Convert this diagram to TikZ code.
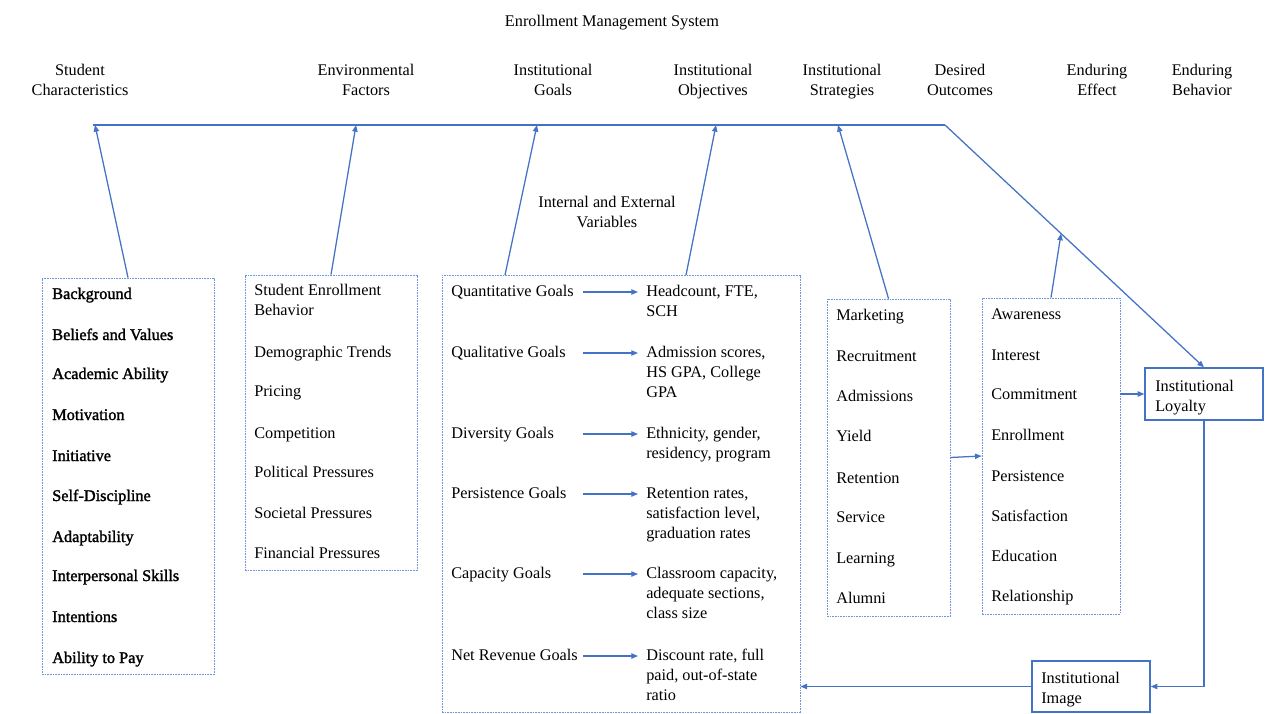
\documentclass[tikz,border=0pt]{standalone}
\usepackage{fontspec}
\setmainfont{Liberation Serif}
\newfontfamily\fakebold[FakeBold=1.6]{Liberation Serif}
\usetikzlibrary{arrows.meta,fit,calc}
\definecolor{eblue}{HTML}{4472C4}
\definecolor{dblue}{HTML}{6F95D8}
\newcommand{\fs}{\fontsize{12.2}{15}\selectfont}
\begin{document}
\begin{tikzpicture}[x=0.75pt,y=-0.75pt,
  lbl/.style={inner sep=0,font=\fs,text height=8pt,text depth=2pt,anchor=west,yshift=-1.5pt},
  blbl/.style={lbl,font=\fs\fakebold},
  mlbl/.style={inner sep=0,font=\fs,align=left,anchor=north west,yshift=-1.5pt},
  head/.style={inner sep=0,font=\fs,align=center,anchor=north,yshift=-1.5pt},
  dbox/.style={draw=dblue,dash pattern=on 1.2pt off 0.8pt,line width=0.6pt,inner sep=0},
  sbox/.style={draw=eblue,line width=1pt,inner sep=0},
  ln/.style={draw=eblue,line width=0.95pt},
  arr/.style={ln,-{Triangle[length=5pt,width=4pt]}}]
\useasboundingbox (0,0) rectangle (1269,713);

% title and headers
\node[lbl,anchor=center,yshift=-0.8pt] (title) at (612,19) {Enrollment Management System};
\node[head] (h1) at (80,62) {Student\\Characteristics};
\node[head] (h2) at (366,62) {Environmental\\Factors};
\node[head] (h3) at (553,62) {Institutional\\Goals};
\node[head] (h4) at (713,62) {Institutional\\Objectives};
\node[head] (h5) at (842,62) {Institutional\\Strategies};
\node[head] (h6) at (960,62) {Desired\\Outcomes};
\node[head] (h7) at (1097,62) {Enduring\\Effect};
\node[head] (h8) at (1202,62) {Enduring\\Behavior};
\node[head] (iev) at (607,194) {Internal and External\\Variables};

% boxes
\node[dbox,fit={(42,278) (214,674)}] (sc) {};
\node[dbox,fit={(245,275) (417,570)}] (ef) {};
\node[dbox,fit={(442,275) (800,712)}] (ig) {};
\node[dbox,fit={(827,299) (950,616)}] (is) {};
\node[dbox,fit={(982,298) (1120,614)}] (do) {};
\node[sbox,fit={(1145,368) (1263,420)}] (loy) {};
\node[sbox,fit={(1032,661) (1150,712)}] (img) {};
\node[mlbl] (loyt) at (1155,378) {Institutional\\Loyalty};
\node[mlbl] (imgt) at (1041,670) {Institutional\\Image};

% box 1
\node[blbl] (s1) at (52,293) {Background};
\node[blbl] (s2) at (52,334) {Beliefs and Values};
\node[blbl] (s3) at (52,373) {Academic Ability};
\node[blbl] (s4) at (52,414) {Motivation};
\node[blbl] (s5) at (52,455) {Initiative};
\node[blbl] (s6) at (52,495) {Self-Discipline};
\node[blbl] (s7) at (52,536) {Adaptability};
\node[blbl] (s8) at (52,575) {Interpersonal Skills};
\node[blbl] (s9) at (52,616) {Intentions};
\node[blbl] (s10) at (52,657) {Ability to Pay};

% box 2
\node[mlbl] (e1) at (254,282) {Student Enrollment\\Behavior};
\node[lbl] (e2) at (254,351) {Demographic Trends};
\node[lbl] (e3) at (254,390) {Pricing};
\node[lbl] (e4) at (254,432) {Competition};
\node[lbl] (e5) at (254,471) {Political Pressures};
\node[lbl] (e6) at (254,512) {Societal Pressures};
\node[lbl] (e7) at (254,552) {Financial Pressures};

% box 3
\node[lbl] (g1) at (451,290) {Quantitative Goals};
\node[lbl] (g2) at (451,351) {Qualitative Goals};
\node[lbl] (g3) at (451,432) {Diversity Goals};
\node[lbl] (g4) at (451,492) {Persistence Goals};
\node[lbl] (g5) at (451,572) {Capacity Goals};
\node[lbl] (g6) at (451,654) {Net Revenue Goals};
\node[mlbl] (o1) at (646,283) {Headcount, FTE,\\SCH};
\node[mlbl] (o2) at (646,344) {Admission scores,\\HS GPA, College\\GPA};
\node[mlbl] (o3) at (646,425) {Ethnicity, gender,\\residency, program};
\node[mlbl] (o4) at (646,485) {Retention rates,\\satisfaction level,\\graduation rates};
\node[mlbl] (o5) at (646,565) {Classroom capacity,\\adequate sections,\\class size};
\node[mlbl] (o6) at (646,647) {Discount rate, full\\paid, out-of-state\\ratio};

% box 4
\node[lbl] (m1) at (836,314) {Marketing};
\node[lbl] (m2) at (836,355) {Recruitment};
\node[lbl] (m3) at (836,395) {Admissions};
\node[lbl] (m4) at (836,435) {Yield};
\node[lbl] (m5) at (836,477) {Retention};
\node[lbl] (m6) at (836,516) {Service};
\node[lbl] (m7) at (836,557) {Learning};
\node[lbl] (m8) at (836,597) {Alumni};

% box 5
\node[lbl] (d1) at (991,313) {Awareness};
\node[lbl] (d2) at (991,354) {Interest};
\node[lbl] (d3) at (991,393) {Commitment};
\node[lbl] (d4) at (991,434) {Enrollment};
\node[lbl] (d5) at (991,475) {Persistence};
\node[lbl] (d6) at (991,515) {Satisfaction};
\node[lbl] (d7) at (991,555) {Education};
\node[lbl] (d8) at (991,595) {Relationship};

% main line
\coordinate (L) at (93,125);
\coordinate (K) at (945,125);
\draw[ln] (L) -- (K);
\draw[arr] (K) -- (loy.north);
\coordinate (t1) at (95,125);
\coordinate (t2) at (356,125);
\coordinate (t3) at (537,125);
\coordinate (t4) at (716,125);
\coordinate (t5) at (838,125);
\coordinate (t6) at ($(K)!0.448!(loy.north)$);
\coordinate (b3a) at (505,275);
\coordinate (b3b) at (686,275);
\draw[arr] (sc.north) -- (t1);
\draw[arr] (ef.north) -- (t2);
\draw[arr] (b3a) -- (t3);
\draw[arr] (b3b) -- (t4);
\draw[arr] (is.north) -- (t5);
\draw[arr] (do.north) -- (t6);

% goal arrows
\coordinate (ax) at (583,0);
\coordinate (bx) at (638,0);
\foreach \g in {g1,g2,g3,g4,g5,g6}{
  \draw[arr] (\g.west -| ax) -- (\g.west -| bx);
}

% right side connectors
\draw[arr] (is.east) -- (do.west);
\draw[arr] (loy.west -| do.east) -- (loy.west);
\draw[arr] (loy.south) |- (img.east);
\draw[arr] (img.west) -- (img.west -| ig.east);
\end{tikzpicture}
\end{document}
